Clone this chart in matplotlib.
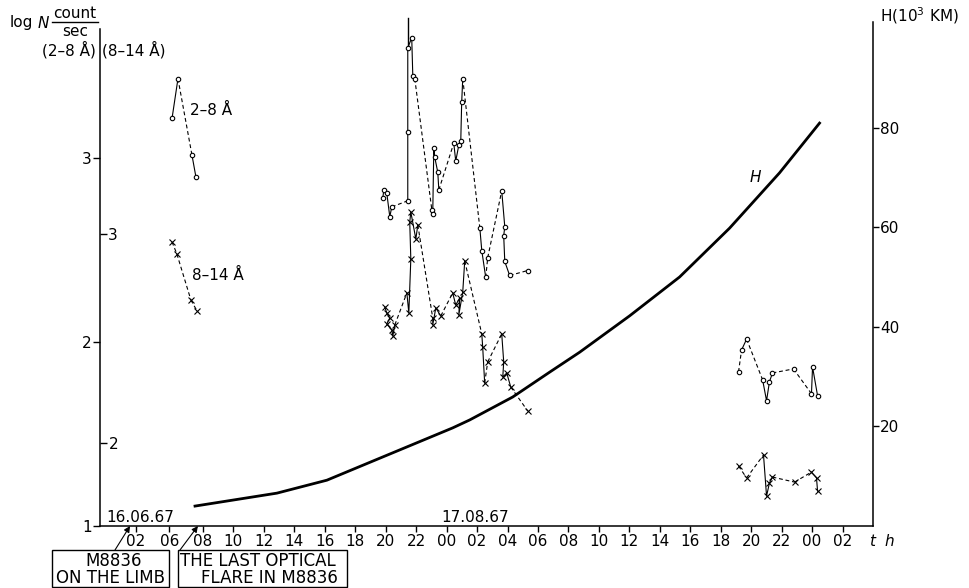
import numpy as np
import matplotlib.pyplot as plt
from matplotlib.patches import Rectangle

plt.rcParams['font.family'] = ['DejaVu Sans']

# --- data (time in hours, log N, H in 10^3 km) ---
# 2-8 A flux: time, log N, run id (points in one run joined solid, runs joined dashed)
soft_t = [5.97, 6.36, 7.28, 7.54,
          19.81, 19.88, 20.07, 20.27, 20.40,
          21.45, 21.45, 21.45, 21.71, 21.78, 21.91,
          23.03, 23.09, 23.16, 23.22, 23.42, 23.49,
          24.47, 24.60, 24.80, 24.93, 24.99, 25.06,
          26.18, 26.31, 26.57, 26.70,
          27.62, 27.82, 27.75, 27.82, 28.14, 29.33,
          43.17, 43.37, 43.70, 44.75, 45.01, 45.20, 45.40, 46.78, 47.96, 48.03, 48.36]
soft_v = [3.216, 3.432, 3.016, 2.897,
          2.784, 2.827, 2.811, 2.681, 2.735,
          2.768, 3.141, 3.600, 3.654, 3.449, 3.432,
          2.719, 2.697, 3.054, 3.005, 2.924, 2.827,
          3.081, 2.984, 3.070, 3.092, 3.303, 3.432,
          2.622, 2.497, 2.351, 2.459,
          2.822, 2.627, 2.578, 2.438, 2.362, 2.389,
          1.838, 1.957, 2.016, 1.795, 1.681, 1.784, 1.832, 1.854, 1.719, 1.865, 1.708]
soft_run = [0, 0, 1, 1,
            10, 10, 10, 10, 10,
            11, 11, 11, 11, 11, 11,
            12, 12, 12, 12, 12, 12,
            13, 13, 13, 13, 13, 13,
            14, 14, 14, 15,
            16, 16, 16, 16, 16, 17,
            20, 21, 21, 22, 22, 22, 22, 23, 24, 24, 24]
soft_off_t = [21.45, 21.45]      # trace running off the top of the scale
soft_off_v = [3.600, 3.760]

# 8-14 A flux
hard_t = [5.97, 6.29, 7.21, 7.61,
          19.94, 20.07, 20.27, 20.07, 20.40, 20.47, 20.60,
          21.39, 21.52, 21.65, 21.58, 21.65, 21.98, 22.11,
          23.09, 23.09, 23.29, 23.62,
          24.40, 24.60, 24.86, 24.80, 25.06, 25.19,
          26.31, 26.37, 26.50, 26.70,
          27.62, 27.75, 27.69, 27.95, 28.21, 29.33,
          43.17, 43.70, 44.81, 45.01, 45.20, 45.40, 46.85, 47.96, 48.29, 48.36]
hard_v = [2.962, 2.904, 2.684, 2.632,
          2.651, 2.622, 2.598, 2.569, 2.541, 2.512, 2.565,
          2.718, 2.622, 2.880, 3.057, 3.105, 2.976, 3.043,
          2.598, 2.565, 2.646, 2.608,
          2.718, 2.660, 2.694, 2.612, 2.722, 2.871,
          2.522, 2.459, 2.287, 2.388,
          2.522, 2.388, 2.316, 2.335, 2.268, 2.153,
          1.890, 1.833, 1.943, 1.746, 1.809, 1.837, 1.813, 1.861, 1.833, 1.770]
hard_run = [0, 1, 2, 3,
            10, 10, 10, 10, 10, 10, 10,
            11, 11, 11, 11, 11, 11, 11,
            12, 12, 12, 12,
            13, 13, 13, 13, 13, 13,
            14, 14, 14, 15,
            16, 16, 16, 16, 16, 17,
            20, 21, 22, 22, 22, 22, 23, 24, 24, 24]

# height H (10^3 km)
h_t = [7.48, 12.86, 16.14, 24.40, 25.52, 28.34, 30.77, 32.74, 36.02, 39.30, 42.58, 45.86, 48.49]
h_v = [4.0, 6.6, 9.2, 19.7, 21.3, 25.9, 30.9, 34.9, 42.2, 50.0, 59.8, 70.9, 80.9]

tick_pos = [3.6, 5.8] + list(range(8, 51, 2))
tick_lab = ['02', '06', '08', '10', '12', '14', '16', '18', '20', '22',
            '00', '02', '04', '06', '08', '10', '12', '14', '16', '18', '20', '22',
            '00', '02']

W, Hpx = 969, 588
fig = plt.figure(figsize=(W / 100, Hpx / 100), dpi=100)


def fp(x, y):
    return x / W, 1 - y / Hpx


L, B, R, T = 100, 526, 873, 22
ax = fig.add_axes([L / W, 1 - B / Hpx, (R - L) / W, (B - T) / Hpx])
ax2 = ax.twinx()
ax3 = ax.twinx()

ax.set_xlim(1.24, 52.0)
ax.set_ylim(1.0, 3.74)
ax2.set_ylim(1.603, 4.014)
ax3.set_ylim(0, 101.2)

for a in (ax, ax2, ax3):
    for s in a.spines.values():
        s.set_visible(False)
ax.spines['left'].set_visible(True)
ax.spines['bottom'].set_visible(True)
ax.spines['left'].set_bounds(1.0, 3.70)
ax3.spines['right'].set_visible(True)
for s in (ax.spines['left'], ax.spines['bottom'], ax3.spines['right']):
    s.set_linewidth(1.1)

ax.set_xticks(tick_pos)
ax.set_xticklabels(tick_lab)
ax.tick_params(axis='x', direction='out', length=4, width=1, pad=2, labelsize=11)
ax.set_yticks([1, 2, 3])
ax.tick_params(axis='y', direction='out', length=5, width=1, pad=1, labelsize=11)

ax2.yaxis.set_ticks_position('left')
ax2.set_yticks([2, 3])
ax2.tick_params(axis='y', direction='in', length=5, width=1, pad=-13,
                labelsize=11, left=True, labelleft=True, right=False, labelright=False)
for lab in ax2.get_yticklabels():
    lab.set_horizontalalignment('right')

ax3.set_yticks([20, 40, 60, 80])
ax3.tick_params(axis='y', direction='out', length=4, width=1, pad=1, labelsize=11)

lw = 0.8
dash = (0, (3.5, 2.5))


def draw_series(a, t, v, run, marker, ms):
    t = np.asarray(t)
    v = np.asarray(v)
    run = np.asarray(run)
    ids = list(dict.fromkeys(run.tolist()))
    prev = None
    for rid in ids:
        m = run == rid
        xs, ys = t[m], v[m]
        if prev is not None and rid - prev[2] == 1:
            a.plot([prev[0], xs[0]], [prev[1], ys[0]], color='k', lw=lw, ls=dash, zorder=2)
        a.plot(xs, ys, color='k', lw=lw, zorder=3, marker=marker, ms=ms,
               mfc='white', mec='k', mew=0.8)
        prev = (xs[-1], ys[-1], rid)


draw_series(ax, soft_t, soft_v, soft_run, 'o', 3.2)
ax.plot(soft_off_t, soft_off_v, color='k', lw=1.0, clip_on=False)
draw_series(ax2, hard_t, hard_v, hard_run, 'x', 4.5)

ax3.plot(h_t, h_v, color='k', lw=2.0)
ax3.text(44.3, 70, 'H', fontsize=11, style='italic', ha='center', va='center')

# series labels
ax.text(7.15, 3.26, '2–8 Å', fontsize=11, va='center', ha='left')
ax2.text(7.28, 2.80, '8–14 Å', fontsize=11, va='center', ha='left')

# axis titles
fig.text(*fp(10, 23), 'log', fontsize=11, va='center')
fig.text(*fp(38, 23), 'N', fontsize=11, va='center', style='italic')
fig.text(*fp(75, 14), 'count', fontsize=11, va='center', ha='center')
fig.text(*fp(75, 31), 'sec', fontsize=11, va='center', ha='center')
fig.add_artist(plt.Line2D([52 / W, 98 / W], [1 - 22 / Hpx, 1 - 22 / Hpx], color='k', lw=1))
fig.text(*fp(96, 50), '(2–8 Å)', fontsize=11, va='center', ha='right')
fig.text(*fp(102, 50), '(8–14 Å)', fontsize=11, va='center', ha='left')
fig.text(*fp(880, 16), 'H(10$^3$ KM)', fontsize=11, va='center', ha='left')

fig.text(*fp(106, 517), '16.06.67', fontsize=11, va='center', ha='left')
fig.text(*fp(441, 517), '17.08.67', fontsize=11, va='center', ha='left')
fig.text(*fp(873, 541), '$t$', fontsize=11, va='center', ha='center')
fig.text(*fp(889, 541), '$h$', fontsize=11, va='center', ha='center')

# event boxes below the time axis
for x0, x1 in [(52, 169), (178, 347)]:
    fig.add_artist(Rectangle(fp(x0, 587), (x1 - x0) / W, 37 / Hpx, transform=fig.transFigure,
                             fill=False, ec='k', lw=1))
fig.text(*fp(114, 561), 'M8836', fontsize=12, ha='center', va='center')
fig.text(*fp(111, 578), 'ON THE LIMB', fontsize=12, ha='center', va='center')
fig.text(*fp(258, 561), 'THE LAST OPTICAL', fontsize=12, ha='center', va='center')
fig.text(*fp(269, 578), 'FLARE IN M8836', fontsize=12, ha='center', va='center')

arrow = dict(arrowstyle='-|>', color='k', lw=0.8, mutation_scale=9, shrinkA=0, shrinkB=0)
ax.annotate('', xy=(3.21, 1.0), xycoords='data', xytext=fp(115, 550),
            textcoords='figure fraction', arrowprops=arrow, annotation_clip=False)
ax.annotate('', xy=(7.67, 1.0), xycoords='data', xytext=fp(180, 550),
            textcoords='figure fraction', arrowprops=arrow, annotation_clip=False)

fig.savefig('out.png', dpi=100)
